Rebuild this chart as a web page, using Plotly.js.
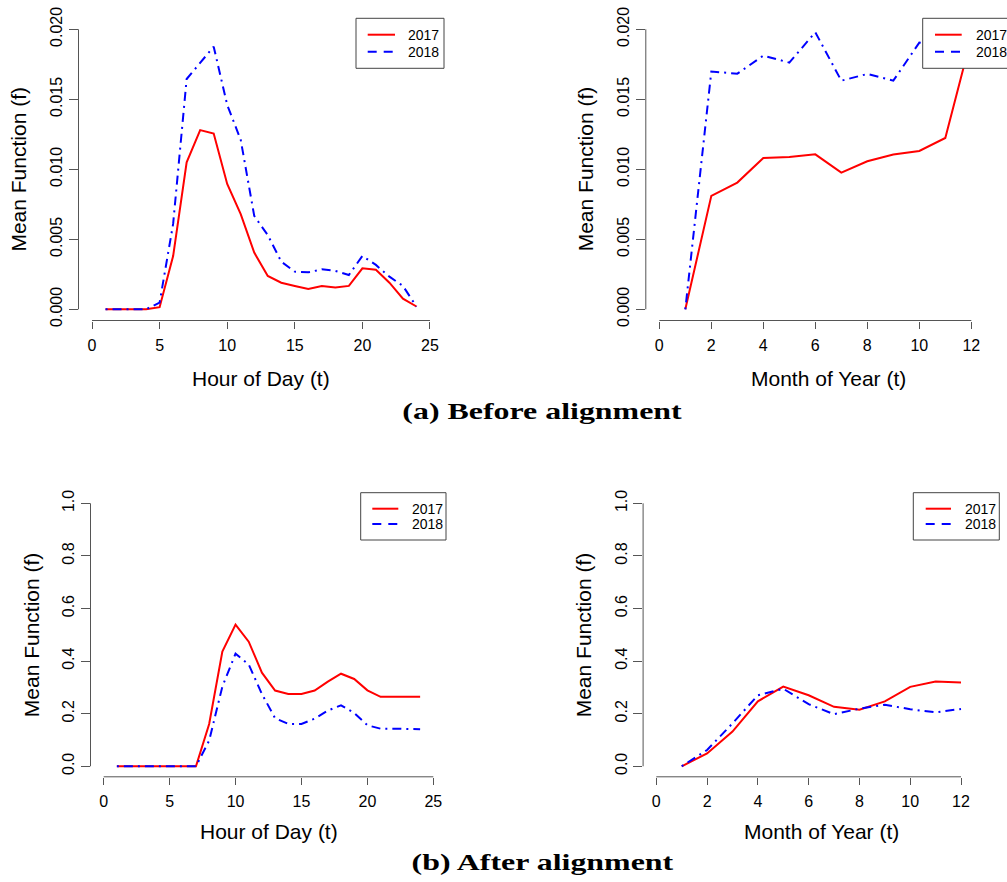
<!DOCTYPE html>
<html>
<head>
<meta charset="utf-8">
<script src="https://cdn.plot.ly/plotly-3.0.1.min.js"></script>
<style>
  html, body { margin: 0; padding: 0; background: #fff; }
  #chart { width: 1007px; height: 882px; }
  .annotation[data-index="0"] .annotation-text,
  .annotation[data-index="1"] .annotation-text {
    transform-box: fill-box; transform-origin: center; transform: scaleX(1.33);
  }
</style>
</head>
<body>
<div id="chart"></div>
<script>
// ---------------- data ----------------
const hours = [1,2,3,4,5,6,7,8,9,10,11,12,13,14,15,16,17,18,19,20,21,22,23,24];
const months = [1,2,3,4,5,6,7,8,9,10,11,12];
const seriesNames = ["2017", "2018"];

const hourBefore2017 = [0,0,0,0,0.00015,0.0038,0.0105,0.0128,0.01255,0.00895,0.0068,0.00405,0.00238,0.0019,0.00167,0.00145,0.00167,0.00155,0.00167,0.00293,0.00283,0.0019,0.00076,0.0002];
const hourBefore2018 = [0,0,0,0,0.00048,0.0061,0.01645,0.0176,0.01876,0.0146,0.0121,0.00667,0.0053,0.0034,0.00269,0.00264,0.00286,0.00274,0.00245,0.00381,0.00317,0.00233,0.00167,0.00019];

const monthBefore2017 = [0,0.0081,0.00905,0.0108,0.01088,0.01107,0.00976,0.01057,0.01105,0.01131,0.01224,0.0194];
const monthBefore2018 = [0,0.01698,0.01683,0.01812,0.01762,0.01979,0.01633,0.01681,0.01633,0.01905,0.0188,0.0192];

const hourAfter2017 = [0,0,0,0,0,0,0,0.161,0.436,0.539,0.474,0.356,0.288,0.275,0.275,0.288,0.322,0.352,0.332,0.289,0.264,0.264,0.264,0.264];
const hourAfter2018 = [0,0,0,0,0,0,0,0.098,0.303,0.428,0.387,0.275,0.183,0.161,0.161,0.181,0.212,0.232,0.203,0.156,0.143,0.143,0.142,0.141];

const monthAfter2017 = [0,0.049,0.132,0.247,0.303,0.270,0.226,0.215,0.247,0.302,0.322,0.319];
const monthAfter2018 = [0,0.062,0.163,0.270,0.295,0.236,0.198,0.219,0.234,0.217,0.205,0.218];

const hourTicks = [0,5,10,15,20,25];
const monthTicks = [0,2,4,6,8,10,12];
const beforeTicks = [0,0.005,0.010,0.015,0.020];
const afterTicks = [0,0.2,0.4,0.6,0.8,1.0];

const xTitleHour = "Hour of Day (t)";
const xTitleMonth = "Month of Year (t)";
const yTitle = "Mean Function (f)";
const captionA = "(a) Before alignment";
const captionB = "(b) After alignment";

// ---------------- layout helpers ----------------
const W = 1007, H = 882;
const px = v => v / W;
const py = v => 1 - v / H;
const FONT = "Liberation Sans, Arial, sans-serif";
const AXC = "#555";
const RED = "#ff0000", BLUE = "#0000ff";

const panels = [
  {xs: hours,  y1: hourBefore2017,  y2: hourBefore2018,  xt: hourTicks,  yt: beforeTicks, yfmt: ".3f",
   dom: [78.5, 443.5], vdom: [18.1, 320.5], xr: [-1, 26], yr: [-0.0008, 0.0208],
   xtitle: xTitleHour, xtc: [261, 378], ytc: [18.3, 169.3],
   leg: {box: [356, 444, 18.3, 68.3], line: [367.7, 395], ly: [34.7, 51.7], tx: 406}},
  {xs: months, y1: monthBefore2017, y2: monthBefore2018, xt: monthTicks, yt: beforeTicks, yfmt: ".3f",
   dom: [645.8, 1007], vdom: [18.1, 320.5], xr: [-0.52, (1007 - 659.3) / 26], yr: [-0.0008, 0.0208],
   xtitle: xTitleMonth, xtc: [828.3, 378], ytc: [585, 169.3],
   leg: {box: [922.7, 1010.8, 18.3, 68.3], line: [935, 961.7], ly: [34.7, 51.7], tx: 974}},
  {xs: hours,  y1: hourAfter2017,   y2: hourAfter2018,   xt: hourTicks,  yt: afterTicks, yfmt: ".1f",
   dom: [90.5, 446.5], vdom: [492.8, 776.8], xr: [-1, 26], yr: [-0.04, 1.04],
   xtitle: xTitleHour, xtc: [268.5, 831], ytc: [31.7, 634.5],
   leg: {box: [360.7, 446, 492.7, 540], line: [372.3, 398.3], ly: [508.7, 524], tx: 409.7}},
  {xs: months, y1: monthAfter2017,  y2: monthAfter2018,  xt: monthTicks, yt: afterTicks, yfmt: ".1f",
   dom: [643.1, 999.6], vdom: [492.8, 776.8], xr: [-0.52, 13.52], yr: [-0.04, 1.04],
   xtitle: xTitleMonth, xtc: [821.4, 831], ytc: [583.8, 634.5],
   leg: {box: [913.3, 999.3, 492.7, 540], line: [925.7, 951], ly: [508.7, 524], tx: 962.7}}
];

const data = [];
const layout = {
  width: W, height: H,
  margin: {l: 0, r: 0, t: 0, b: 0},
  paper_bgcolor: "#fff", plot_bgcolor: "#fff",
  showlegend: false,
  font: {family: FONT, color: "#000"},
  shapes: [],
  annotations: [
    {text: captionA, xref: "paper", yref: "paper", x: px(542), y: py(411), xanchor: "center", yanchor: "middle",
     showarrow: false, font: {family: "Liberation Serif, Times New Roman, serif", size: 24, weight: 700, color: "#000"}},
    {text: captionB, xref: "paper", yref: "paper", x: px(542), y: py(862), xanchor: "center", yanchor: "middle",
     showarrow: false, font: {family: "Liberation Serif, Times New Roman, serif", size: 24, weight: 700, color: "#000"}}
  ]
};

panels.forEach((p, i) => {
  const n = i + 1;
  const xa = "x" + (n === 1 ? "" : n), ya = "y" + (n === 1 ? "" : n);
  const xk = "xaxis" + (n === 1 ? "" : n), yk = "yaxis" + (n === 1 ? "" : n);
  data.push({x: p.xs, y: p.y1, name: seriesNames[0], type: "scatter", mode: "lines",
             line: {color: RED, width: 2}, xaxis: xa, yaxis: ya, hoverinfo: "x+y"});
  data.push({x: p.xs, y: p.y2, name: seriesNames[1], type: "scatter", mode: "lines",
             line: {color: BLUE, width: 2, dash: "2px,5px,9px,5px"}, xaxis: xa, yaxis: ya, hoverinfo: "x+y"});
  layout[xk] = {
    domain: [px(p.dom[0]), px(p.dom[1])], range: p.xr, anchor: ya,
    showgrid: false, zeroline: false, showline: false,
    ticks: "outside", ticklen: 7, tickwidth: 1, tickcolor: AXC,
    tickvals: p.xt, tickfont: {family: FONT, size: 16, color: "#000"},
    ticklabelstandoff: 3, fixedrange: true
  };
  layout[yk] = {
    domain: [py(p.vdom[1]), py(p.vdom[0])], range: p.yr, anchor: xa,
    showgrid: false, zeroline: false, showline: false,
    ticks: "outside", ticklen: 9, tickwidth: 1, tickcolor: AXC,
    tickvals: p.yt, tickformat: p.yfmt, tickangle: -90,
    tickfont: {family: FONT, size: 16, color: "#000"}, fixedrange: true
  };
  // R-style axis lines spanning first to last tick
  layout.shapes.push({type: "line", xref: xa, yref: ya + " domain",
    x0: p.xt[0], x1: p.xt[p.xt.length - 1], y0: 0, y1: 0, line: {color: AXC, width: 1}});
  layout.shapes.push({type: "line", xref: xa + " domain", yref: ya,
    x0: 0, x1: 0, y0: p.yt[0], y1: p.yt[p.yt.length - 1], line: {color: AXC, width: 1}});
  // axis titles
  layout.annotations.push({text: p.xtitle, xref: "paper", yref: "paper", x: px(p.xtc[0]), y: py(p.xtc[1]),
    xanchor: "center", yanchor: "middle", showarrow: false, font: {family: FONT, size: 21, color: "#000"}});
  layout.annotations.push({text: yTitle, xref: "paper", yref: "paper", x: px(p.ytc[0]), y: py(p.ytc[1]),
    xanchor: "center", yanchor: "middle", textangle: -90, showarrow: false, font: {family: FONT, size: 21, color: "#000"}});
  // legend box
  const L = p.leg;
  layout.shapes.push({type: "rect", xref: "paper", yref: "paper", layer: "above",
    x0: px(L.box[0]), x1: px(L.box[1]), y0: py(L.box[3]), y1: py(L.box[2]),
    fillcolor: "#fff", line: {color: "#444", width: 1}});
  layout.shapes.push({type: "line", xref: "paper", yref: "paper", layer: "above",
    x0: px(L.line[0]), x1: px(L.line[1]), y0: py(L.ly[0]), y1: py(L.ly[0]), line: {color: RED, width: 2}});
  layout.shapes.push({type: "line", xref: "paper", yref: "paper", layer: "above",
    x0: px(L.line[0]), x1: px(L.line[1]), y0: py(L.ly[1]), y1: py(L.ly[1]), line: {color: BLUE, width: 2, dash: "9px,7px"}});
  seriesNames.forEach((s, k) => {
    layout.annotations.push({text: s, xref: "paper", yref: "paper", x: px(L.tx), y: py(L.ly[k]),
      xanchor: "left", yanchor: "middle", showarrow: false, font: {family: FONT, size: 14, color: "#000"}});
  });
});

Plotly.newPlot("chart", data, layout, {displayModeBar: false, staticPlot: true});
</script>
</body>
</html>
